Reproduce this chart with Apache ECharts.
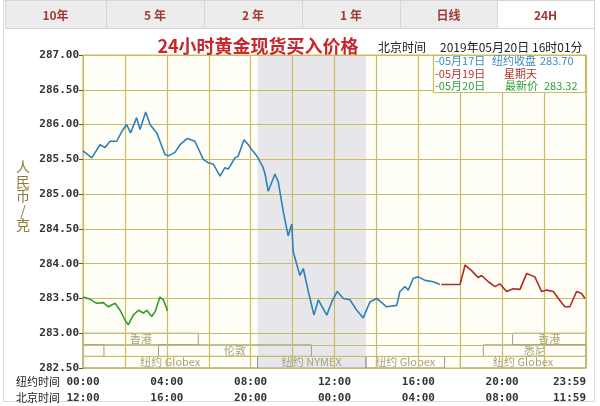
<!DOCTYPE html>
<html><head><meta charset="utf-8">
<script src="https://cdn.jsdelivr.net/npm/echarts@6/dist/echarts.min.js"></script>
<style>html,body{margin:0;padding:0;background:#fff}#c{width:600px;height:406px}</style>
</head><body><div id="c"></div>
<script>
// ---- data (x = New York hour of day, y = CNY per gram) ----
const blueHours = [0,0.42,0.81,1.05,1.29,1.61,1.85,2.08,2.27,2.56,2.72,2.99,3.2,3.52,3.91,4.07,4.39,4.63,4.98,5.34,5.74,5.98,6.22,6.54,6.77,6.93,7.25,7.41,7.68,7.89,8.05,8.29,8.57,8.68,8.84,9.16,9.32,9.56,9.79,9.96,10.03,10.35,10.51,10.75,11.02,11.23,11.63,11.87,12.13,12.42,12.74,13.06,13.37,13.69,14.01,14.49,14.97,15.12,15.36,15.52,15.76,16.0,16.32,16.71,17.03];
const blueValues = [285.62,285.52,285.71,285.67,285.76,285.76,285.90,286.00,285.88,286.10,285.93,286.18,286.00,285.88,285.57,285.55,285.60,285.71,285.80,285.76,285.50,285.45,285.43,285.26,285.38,285.36,285.52,285.55,285.78,285.71,285.64,285.55,285.40,285.30,285.04,285.29,285.17,284.74,284.40,284.57,284.17,283.83,283.93,283.60,283.26,283.48,283.26,283.45,283.60,283.50,283.48,283.33,283.22,283.45,283.50,283.38,283.40,283.60,283.67,283.62,283.79,283.81,283.76,283.74,283.70];
const redHours = [17.1,17.27,17.99,18.23,18.54,18.86,19.02,19.34,19.66,19.89,20.21,20.53,20.85,21.17,21.56,21.88,22.12,22.44,22.68,22.99,23.23,23.55,23.79,23.95];
const redValues = [283.70,283.70,283.70,283.98,283.90,283.80,283.83,283.74,283.67,283.71,283.60,283.64,283.63,283.86,283.81,283.60,283.62,283.60,283.50,283.38,283.38,283.60,283.57,283.50];
const greenHours = [0,0.33,0.65,0.97,1.21,1.53,1.77,2.0,2.16,2.4,2.64,2.88,3.04,3.28,3.44,3.67,3.83,3.99,4.02];
const greenValues = [283.52,283.49,283.43,283.44,283.38,283.43,283.33,283.19,283.12,283.26,283.33,283.29,283.33,283.24,283.31,283.52,283.48,283.36,283.32];

const nyLabels = ['00:00','04:00','08:00','12:00','16:00','20:00','23:59'];
const bjLabels = ['12:00','16:00','20:00','00:00','04:00','08:00','11:59'];

const nymexStart = 8.33, nymexEnd = 13.5;
const sessionNames = ['香港','香港','','伦敦','悉尼','纽约 Globex','纽约 NYMEX','纽约 Globex','纽约 Globex'];
const sessionStart = [0,20.5,0,3.6,19.1,0,8.33,13.5,18.0];
const sessionEnd   = [5.5,24,1.0,10.9,24,8.33,13.5,17.25,24];
const sessionRow   = [0,0,1,1,1,2,2,2,2];
const rowTop    = [283.0, 282.8333, 282.6667];
const rowBottom = [282.8333, 282.6667, 282.5];

const tabNames = ['10年','5 年','2 年','1 年','日线','24H'];

// ---- chart ----
const chart = echarts.init(document.getElementById('c'), null, {renderer:'canvas'});
const GOLD = '#cdbb62';
const mono = '"DejaVu Sans Mono", monospace';
const cjk = '"Noto Sans CJK SC", sans-serif';

const tabBounds = [5,106,204,302,400,497,594];
const graphics = [];
graphics.push({type:'rect', z:0, shape:{x:3.5,y:0.5,width:591,height:401}, style:{fill:'none', stroke:'#d9d9d9', lineWidth:1}});
tabNames.forEach((t,i)=>{
  const active = i === tabNames.length-1;
  graphics.push({type:'rect', z:1, shape:{x:tabBounds[i]+0.5,y:0.5,width:tabBounds[i+1]-tabBounds[i],height:28},
    style:{fill: active ? '#ffffff' : '#ececec', stroke:'#d6d6d6', lineWidth:1}});
  graphics.push({type:'text', z:2, style:{text:t, x:(tabBounds[i]+tabBounds[i+1])/2, y:15, textAlign:'center', textVerticalAlign:'middle',
    fill:'#a23a34', font:'bold 12px ' + cjk}});
});
graphics.push({type:'text', z:2, style:{text:'24小时黄金现货买入价格', x:258, y:46, textAlign:'center', textVerticalAlign:'middle', fill:'#c8262c', font:'bold 18px ' + cjk}});
graphics.push({type:'text', z:2, style:{text:'北京时间', x:378, y:47, textVerticalAlign:'middle', fill:'#222', font:'12px ' + cjk}});
graphics.push({type:'text', z:2, style:{text:'2019年05月20日 16时01分', x:440, y:47, textVerticalAlign:'middle', fill:'#222', font:'12px ' + cjk}});
// legend box
graphics.push({type:'rect', z:10, shape:{x:433.5,y:55.5,width:152,height:37}, style:{fill:'#ffffff', stroke:GOLD, lineWidth:1.2}});
const legRows = [
  {y:61, c:'#3b8dc5', parts:[['-05月17日',435],['纽约收盘',492],['283.70',540]]},
  {y:73.5, c:'#b8312c', parts:[['-05月19日',435],['星期天',504]]},
  {y:86, c:'#2f9e34', parts:[['-05月20日',435],['最新价',505],['283.32',544]]}
];
legRows.forEach(r=>r.parts.forEach(p=>{
  graphics.push({type:'text', z:11, style:{text:p[0], x:p[1], y:r.y, textVerticalAlign:'middle', fill:r.c, font:'11px ' + cjk}});
}));
graphics.push({type:'text', z:2, style:{text:'人\n民\n币\n/\n克', x:23, y:196, textAlign:'center', textVerticalAlign:'middle', fill:'#8a7c3a', font:'14px ' + cjk, lineHeight:14.5}});
graphics.push({type:'text', z:2, style:{text:'纽约时间', x:16, y:382, textVerticalAlign:'middle', fill:'#222', font:'11px ' + cjk}});
graphics.push({type:'text', z:2, style:{text:'北京时间', x:16, y:398, textVerticalAlign:'middle', fill:'#222', font:'11px ' + cjk}});

const sessionAreas = sessionNames.map((n,i)=>[
  {name:n, xAxis:sessionStart[i], yAxis:rowTop[sessionRow[i]]},
  {xAxis:sessionEnd[i], yAxis:rowBottom[sessionRow[i]]}
]);

const lineStyle = (c)=>({color:c, width:1.6});

chart.setOption({
  animation:false,
  graphic: graphics,
  grid:{left:83, right:14, top:55, bottom:36, show:true, backgroundColor:'#fffef6', borderColor:GOLD, borderWidth:1.2, z:0},
  xAxis:{type:'value', min:0, max:24, interval:2, z:3,
    axisLine:{show:false}, axisTick:{show:false},
    splitLine:{show:true, lineStyle:{color:GOLD, width:1.2}},
    axisLabel:{margin:6, color:'#333', fontFamily:mono, fontWeight:'bold', fontSize:11, lineHeight:16, alignMaxLabel:'right',
      formatter:(v)=>{ const k=v/4; return Number.isInteger(k) ? nyLabels[k]+'\n'+bjLabels[k] : ''; }}
  },
  yAxis:{type:'value', min:282.5, max:287, interval:0.5, z:3,
    axisLine:{show:false}, axisTick:{show:true, length:4, lineStyle:{color:'#555'}},
    splitLine:{show:true, lineStyle:{color:GOLD, width:1.2}},
    axisLabel:{margin:4, color:'#333', fontFamily:mono, fontWeight:'bold', fontSize:11, formatter:(v)=>v.toFixed(2)}
  },
  series:[
    {type:'line', z:1, data:[], silent:true,
      markArea:{silent:true, itemStyle:{color:'#e7e7eb'}, data:[[{xAxis:nymexStart},{xAxis:nymexEnd}]]}},
    {type:'line', z:4, data:[], silent:true,
      markLine:{silent:true, symbol:'none', label:{show:false}, lineStyle:{color:GOLD, type:'solid', width:1.2},
        data:[{yAxis:rowTop[1]},{yAxis:rowTop[2]}]},
      markArea:{silent:true, itemStyle:{color:'rgba(0,0,0,0)', borderColor:'#9c9c9c', borderWidth:1},
        label:{show:true, position:'inside', color:'#a7a27c', fontSize:11, fontFamily:cjk},
        data:sessionAreas}},
    {name:'05月17日', type:'line', z:5, showSymbol:false, lineStyle:lineStyle('#2f80b9'), data:blueHours.map((h,i)=>[h,blueValues[i]])},
    {name:'05月19日', type:'line', z:5, showSymbol:false, lineStyle:lineStyle('#b32a26'), data:redHours.map((h,i)=>[h,redValues[i]])},
    {name:'05月20日', type:'line', z:5, showSymbol:false, lineStyle:lineStyle('#2e9e2e'), data:greenHours.map((h,i)=>[h,greenValues[i]])}
  ]
});
</script></body></html>
